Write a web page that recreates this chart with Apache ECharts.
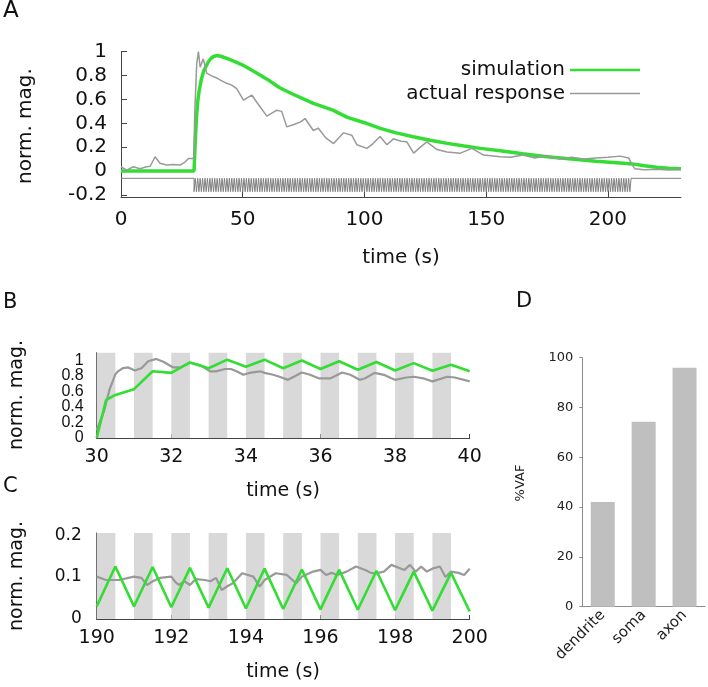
<!DOCTYPE html>
<html><head><meta charset="utf-8">
<script src="https://cdn.jsdelivr.net/npm/echarts@6/dist/echarts.min.js"></script>
<style>html,body{margin:0;padding:0;background:#fff}#c{width:708px;height:687px}</style>
</head><body><div id="c"></div>
<script>
// ---------- Panel A data ----------
const simTime  = [0,30,30.5,31,31.5,32,33,34,35,36,37,38,39.5,41,44,47,50,55,60,65,70,79,87,93,100,106.5,113,120,127,134,141,147.6,155.8,165,175,185,195,205,210,215,220,225,230];
const simValue = [0,0,0.25,0.45,0.58,0.66,0.77,0.84,0.88,0.92,0.945,0.96,0.968,0.962,0.94,0.915,0.888,0.83,0.77,0.70,0.65,0.567,0.51,0.45,0.405,0.358,0.32,0.288,0.258,0.232,0.21,0.19,0.17,0.145,0.12,0.10,0.083,0.068,0.06,0.045,0.032,0.024,0.02];
const respTime  = [0,2.3,5.1,7.8,10.5,12,14,16,18.8,21.5,24.3,26.3,27.7,29.9,30.3,31.1,31.8,32.5,33.8,35.2,37,39.3,41,43.4,45.5,47.5,50.3,53.7,56,59.9,64,66,68.1,71,73.6,75.6,79,81,84,87.3,91.4,94.8,96.9,101,103.5,106.4,109.2,111.9,115,117.4,120.2,123,125.6,129.8,133.9,139.4,144.1,148.9,155.8,160,165,170,175,180,185,190,195,200,205,208.5,210,211,215,220,225,230];
const respValue = [0.036,0.008,0.036,0.02,0.036,0.04,0.12,0.065,0.05,0.055,0.05,0.075,0.106,0.106,0.5,0.90,1.0,0.87,0.94,0.82,0.80,0.78,0.76,0.735,0.72,0.69,0.595,0.637,0.57,0.46,0.51,0.50,0.37,0.39,0.41,0.44,0.34,0.36,0.28,0.23,0.32,0.30,0.22,0.19,0.23,0.29,0.22,0.27,0.25,0.245,0.15,0.20,0.245,0.18,0.16,0.15,0.19,0.134,0.12,0.115,0.135,0.11,0.13,0.10,0.115,0.10,0.11,0.115,0.125,0.11,0.05,0.02,0.01,0.015,0.008,0.012];
const stimStart = 30, stimEnd = 210, stimPeriod = 1, stimOnDuration = 0.5;
const stimHigh = -0.061, stimLow = -0.173;
const aXTicks = [0,50,100,150,200];
const aYTicks = [-0.2,0,0.2,0.4,0.6,0.8,1];

// ---------- Panel B data ----------
const bSimTime  = [30,30.25,30.5,31,31.5,32,32.5,33,33.5,34,34.5,35,35.5,36,36.5,37,37.5,38,38.5,39,39.5,40];
const bSimValue = [0,0.49,0.556,0.63,0.86,0.84,0.975,0.90,1.01,0.92,1.01,0.90,1.0,0.89,0.99,0.88,0.98,0.87,0.966,0.867,0.945,0.86];
const bRespTime  = [30,30.2,30.34,30.5,30.57,30.7,30.85,31.02,31.2,31.38,31.6,31.8,32.05,32.25,32.5,32.77,33.04,33.2,33.44,33.6,33.75,33.93,34.1,34.38,34.5,34.73,34.9,35.13,35.5,35.72,35.95,36.27,36.58,36.8,37.05,37.2,37.45,37.7,37.9,38.0,38.3,38.5,38.75,39.0,39.4,39.6,40];
const bRespValue = [0.10,0.35,0.62,0.82,0.86,0.90,0.91,0.87,0.90,0.99,1.02,0.98,0.91,0.91,0.97,0.94,0.86,0.86,0.89,0.89,0.86,0.815,0.84,0.86,0.84,0.815,0.79,0.75,0.845,0.815,0.77,0.77,0.845,0.815,0.75,0.77,0.84,0.815,0.77,0.75,0.78,0.79,0.77,0.73,0.79,0.78,0.73];
const bStimOnsets = [30,31,32,33,34,35,36,37,38,39];
const bXTicks = [30,32,34,36,38,40];
const bYTicks = [0,0.2,0.4,0.6,0.8,1];

// ---------- Panel C data ----------
const cSimTime  = [190,190.5,191,191.5,192,192.5,193,193.5,194,194.5,195,195.5,196,196.5,197,197.5,198,198.5,199,199.5,200];
const cSimValue = [0.03,0.125,0.03,0.124,0.028,0.122,0.027,0.121,0.025,0.12,0.024,0.118,0.023,0.117,0.022,0.115,0.021,0.113,0.02,0.11,0.018];
const cRespTime  = [190,190.25,190.6,191,191.2,191.35,191.5,191.7,192,192.1,192.2,192.35,192.5,192.65,192.9,193.05,193.2,193.35,193.5,193.65,193.9,194.2,194.37,194.5,194.8,195.1,195.35,195.5,195.8,196.0,196.15,196.3,196.45,196.7,196.95,197.2,197.35,197.5,197.7,197.9,198.25,198.4,198.55,198.7,198.85,199.0,199.2,199.35,199.5,199.7,199.85,200];
const cRespValue = [0.101,0.093,0.093,0.101,0.098,0.081,0.09,0.098,0.101,0.089,0.081,0.09,0.081,0.095,0.093,0.09,0.098,0.069,0.078,0.085,0.109,0.101,0.077,0.093,0.109,0.105,0.085,0.101,0.113,0.117,0.105,0.11,0.105,0.113,0.125,0.117,0.11,0.109,0.113,0.129,0.117,0.129,0.113,0.125,0.113,0.12,0.125,0.10,0.113,0.11,0.105,0.12];
const cStimOnsets = [190,191,192,193,194,195,196,197,198,199];
const cXTicks = [190,192,194,196,198,200];
const cYTicks = [0,0.1,0.2];

// ---------- Panel D data ----------
const dCategories = ['dendrite','soma','axon'];
const dValues = [42,74.3,96];
const dYTicks = [0,20,40,60,80,100];

// ---------- helpers ----------
const FONT = 'DejaVu Sans';
const GREEN = '#33dd33';
const GRAY = '#999999';
const AXIS = '#444444';
const zip = (xs, ys) => xs.map((x, i) => [x, ys[i]]);

const stimTrace = [[0, stimHigh]];
for (let t = stimStart; t < stimEnd; t += stimPeriod) {
  stimTrace.push([t, stimHigh], [t, stimLow], [t + stimOnDuration, stimLow], [t + stimOnDuration, stimHigh]);
}
stimTrace.push([230, stimHigh]);

// panel B labels are tightly packed: split them over two overlaid axes so none gets auto-hidden
const bYLabelsEven = bYTicks.filter((v, i) => i % 2 === 0);
const bYLabelsOdd  = bYTicks.filter((v, i) => i % 2 === 1);

function valAxis(gridIndex, min, max, ticks, label, tickLen, labelValues) {
  return {
    gridIndex, type: 'value', min, max,
    axisLine: { show: true, onZero: false, lineStyle: { color: AXIS, width: 1 } },
    axisTick: { show: true, inside: true, length: tickLen, customValues: ticks, lineStyle: { color: AXIS } },
    axisLabel: Object.assign({ customValues: labelValues || ticks, color: '#111', fontFamily: FONT,
      showMinLabel: true, showMaxLabel: true, hideOverlap: false }, label),
    splitLine: { show: false }
  };
}

const bLabelStyle = { fontSize: 16, margin: 13, fontFamily: 'Liberation Sans' };

const option = {
  backgroundColor: '#ffffff',
  animation: false,
  grid: [
    { left: 121, top: 51.7, width: 560, height: 145.6, outerBoundsMode: 'none' },
    { left: 96.7, top: 352.7, width: 373, height: 85.3, outerBoundsMode: 'none' },
    { left: 96.7, top: 533, width: 373, height: 86, outerBoundsMode: 'none' },
    { left: 582.3, top: 357.7, width: 122.7, height: 249, outerBoundsMode: 'none' }
  ],
  xAxis: [
    valAxis(0, 0, 230, aXTicks, { fontSize: 20, margin: 12 }, 7),
    valAxis(1, 30, 40, bXTicks, { fontSize: 19, margin: 10 }, 4),
    valAxis(2, 190, 200, cXTicks, { fontSize: 19, margin: 10 }, 4),
    { gridIndex: 3, type: 'category', data: dCategories,
      axisLine: { show: true, lineStyle: { color: '#8c8c8c' } },
      axisTick: { show: false },
      axisLabel: { rotate: 45, fontSize: 15, color: '#222', fontFamily: FONT, margin: 6 } }
  ],
  yAxis: [
    valAxis(0, -0.22, 1, aYTicks, { fontSize: 20, margin: 14 }, 6),
    Object.assign(valAxis(1, 0, 1.1, bYTicks, bLabelStyle, 4, bYLabelsEven), { position: 'left' }),
    valAxis(2, 0, 0.205, cYTicks, { fontSize: 17, margin: 15 }, 4),
    { gridIndex: 3, type: 'value', min: 0, max: 100, interval: 20,
      axisLine: { show: true, lineStyle: { color: '#8c8c8c' } },
      axisTick: { show: true, length: 3, lineStyle: { color: '#8c8c8c' } },
      axisLabel: { fontSize: 13, color: '#222', fontFamily: FONT, margin: 9 },
      splitLine: { show: false } },
    Object.assign(valAxis(1, 0, 1.1, [], bLabelStyle, 4, bYLabelsOdd),
      { position: 'left', offset: 0, axisLine: { show: false }, axisTick: { show: false } })
  ],
  legend: [
    { data: ['simulation'], orient: 'vertical', align: 'right', right: 68, top: 59, padding: 0,
      icon: 'rect', itemWidth: 70, itemHeight: 2.5, selectedMode: false,
      textStyle: { fontSize: 20, fontFamily: FONT, color: '#111', lineHeight: 22 } },
    { data: ['actual response'], orient: 'vertical', align: 'right', right: 68, top: 82.5, padding: 0,
      icon: 'rect', itemWidth: 70, itemHeight: 1.5, selectedMode: false,
      textStyle: { fontSize: 20, fontFamily: FONT, color: '#111', lineHeight: 22 } }
  ],
  series: [
    // Panel A
    { type: 'line', xAxisIndex: 0, yAxisIndex: 0, data: stimTrace, showSymbol: false, silent: true,
      lineStyle: { color: '#808080', width: 1 }, itemStyle: { color: '#808080' } },
    { name: 'simulation', type: 'line', xAxisIndex: 0, yAxisIndex: 0, data: zip(simTime, simValue),
      showSymbol: false, lineStyle: { color: GREEN, width: 3.5 }, itemStyle: { color: GREEN } },
    { name: 'actual response', type: 'line', xAxisIndex: 0, yAxisIndex: 0, data: zip(respTime, respValue),
      showSymbol: false, lineStyle: { color: GRAY, width: 1.5 }, itemStyle: { color: GRAY } },
    // Panel B
    { type: 'line', xAxisIndex: 1, yAxisIndex: 1, data: [], z: 1, silent: true,
      markArea: { silent: true, itemStyle: { color: '#d9d9d9', opacity: 1 },
        data: bStimOnsets.map(t => [{ xAxis: t }, { xAxis: t + stimOnDuration }]) } },
    { type: 'line', xAxisIndex: 1, yAxisIndex: 1, data: zip(bRespTime, bRespValue), z: 3,
      showSymbol: false, lineStyle: { color: GRAY, width: 2.2 }, itemStyle: { color: GRAY } },
    { type: 'line', xAxisIndex: 1, yAxisIndex: 1, data: zip(bSimTime, bSimValue), z: 4,
      showSymbol: false, lineStyle: { color: GREEN, width: 2.6 }, itemStyle: { color: GREEN } },
    // Panel C
    { type: 'line', xAxisIndex: 2, yAxisIndex: 2, data: [], z: 1, silent: true,
      markArea: { silent: true, itemStyle: { color: '#d9d9d9', opacity: 1 },
        data: cStimOnsets.map(t => [{ xAxis: t }, { xAxis: t + stimOnDuration }]) } },
    { type: 'line', xAxisIndex: 2, yAxisIndex: 2, data: zip(cRespTime, cRespValue), z: 3,
      showSymbol: false, lineStyle: { color: GRAY, width: 2.2 }, itemStyle: { color: GRAY } },
    { type: 'line', xAxisIndex: 2, yAxisIndex: 2, data: zip(cSimTime, cSimValue), z: 4,
      showSymbol: false, lineStyle: { color: GREEN, width: 2.6 }, itemStyle: { color: GREEN } },
    // Panel D
    { type: 'bar', xAxisIndex: 3, yAxisIndex: 3, data: dValues, barWidth: 24,
      itemStyle: { color: '#bfbfbf' } }
  ],
  graphic: [
    { type: 'text', left: 3, top: 0, style: { text: 'A', fontSize: 23, fontFamily: FONT, fill: '#111' } },
    { type: 'text', left: 3, top: 292, style: { text: 'B', fontSize: 21, fontFamily: FONT, fill: '#111' } },
    { type: 'text', left: 3, top: 476, style: { text: 'C', fontSize: 21, fontFamily: FONT, fill: '#111' } },
    { type: 'text', left: 516, top: 291, style: { text: 'D', fontSize: 21, fontFamily: FONT, fill: '#111' } },
    { type: 'text', x: 25.5, y: 126, rotation: Math.PI / 2,
      style: { text: 'norm. mag.', fontSize: 20, fontFamily: FONT, fill: '#111', align: 'center', verticalAlign: 'middle' } },
    { type: 'text', x: 401, y: 257.5,
      style: { text: 'time (s)', fontSize: 20, fontFamily: FONT, fill: '#111', align: 'center', verticalAlign: 'middle' } },
    { type: 'text', x: 17, y: 395, rotation: Math.PI / 2,
      style: { text: 'norm. mag.', fontSize: 19, fontFamily: FONT, fill: '#111', align: 'center', verticalAlign: 'middle' } },
    { type: 'text', x: 283, y: 491,
      style: { text: 'time (s)', fontSize: 19, fontFamily: FONT, fill: '#111', align: 'center', verticalAlign: 'middle' } },
    { type: 'text', x: 17, y: 576, rotation: Math.PI / 2,
      style: { text: 'norm. mag.', fontSize: 19, fontFamily: FONT, fill: '#111', align: 'center', verticalAlign: 'middle' } },
    { type: 'text', x: 283, y: 672,
      style: { text: 'time (s)', fontSize: 19, fontFamily: FONT, fill: '#111', align: 'center', verticalAlign: 'middle' } },
    { type: 'text', x: 521, y: 483, rotation: Math.PI / 2,
      style: { text: '%VAF', fontSize: 13, fontFamily: FONT, fill: '#222', align: 'center', verticalAlign: 'middle' } }
  ]
};

const chart = echarts.init(document.getElementById('c'), null, { renderer: 'canvas' });
chart.setOption(option);
</script>
</body></html>
